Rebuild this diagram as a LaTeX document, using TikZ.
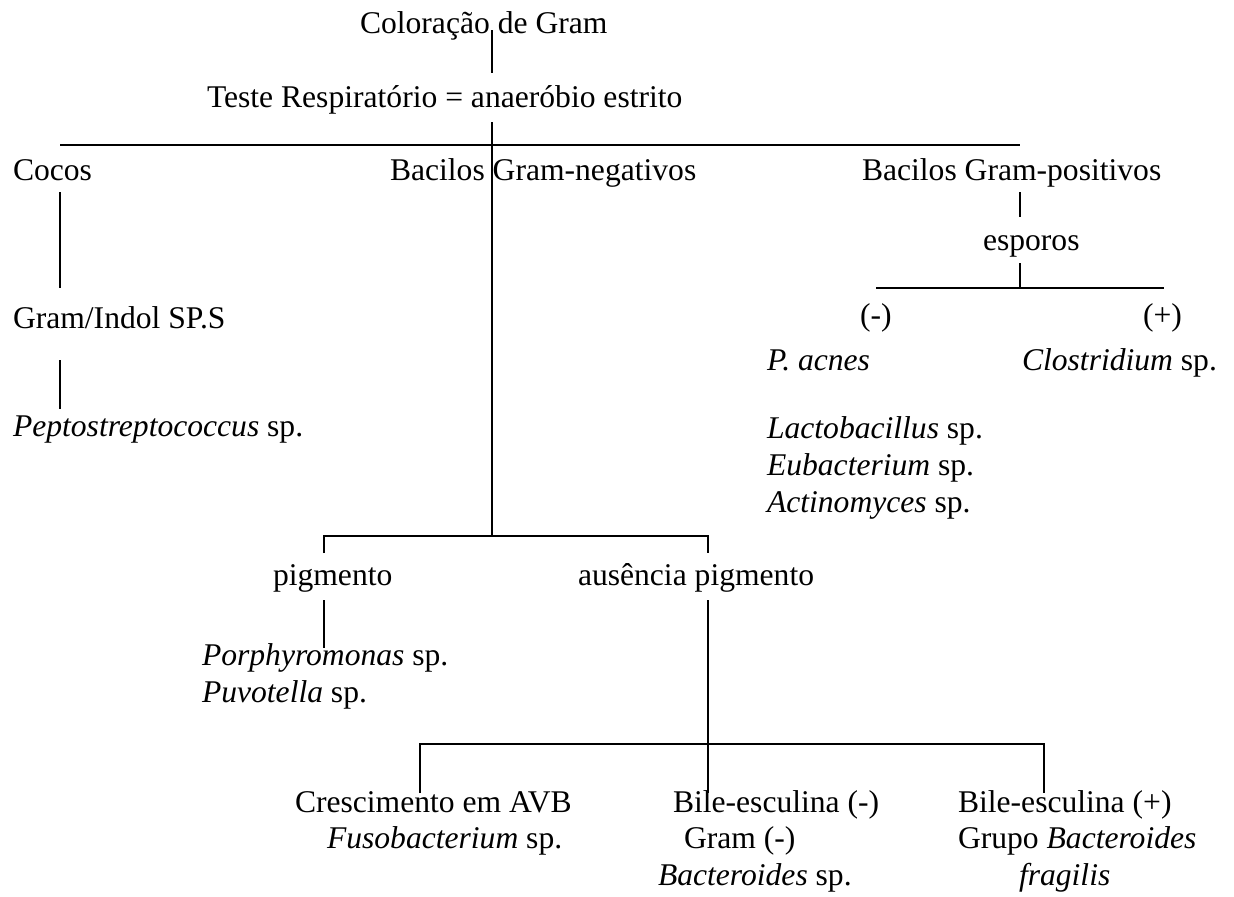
\documentclass[tikz,border=0pt]{standalone}
\usepackage{fontspec}
\setmainfont{Liberation Serif}
\begin{document}
\begin{tikzpicture}[x=0.5pt,y=-0.5pt,
  lbl/.style={anchor=base west,inner sep=0pt,outer sep=0pt,font=\fontsize{15.8}{19}\selectfont},
  conn/.style={line width=1pt,line cap=butt}]
\useasboundingbox (0,0) rectangle (1234,896);
% texts
\node[lbl] (gram) at (360,33) {Coloração de Gram};
\node[lbl] (teste) at (207,107) {Teste Respiratório = anaeróbio estrito};
\node[lbl] (cocos) at (13,180) {Cocos};
\node[lbl] (bgn) at (390,180) {Bacilos Gram-negativos};
\node[lbl] (bgp) at (862,180) {Bacilos Gram-positivos};
\node[lbl] (esp) at (983,250) {esporos};
\node[lbl] (neg) at (860,325) {(-)};
\node[lbl] (pos) at (1143,325) {(+)};
\node[lbl] (pacnes) at (767,370) {\textit{P. acnes}};
\node[lbl] (clos) at (1022,370) {\textit{Clostridium} sp.};
\node[lbl] (indol) at (13,328) {Gram/Indol SP.S};
\node[lbl] (pepto) at (13,436) {\textit{Peptostreptococcus} sp.};
\node[lbl] (lacto) at (767,438) {\textit{Lactobacillus} sp.};
\node[lbl] (eubac) at (767,475) {\textit{Eubacterium} sp.};
\node[lbl] (actino) at (767,512) {\textit{Actinomyces} sp.};
\node[lbl] (pigm) at (273,585) {pigmento};
\node[lbl] (ausen) at (578,585) {ausência pigmento};
\node[lbl] (porph) at (202,665) {\textit{Porphyromonas} sp.};
\node[lbl] (puvo) at (202,702) {\textit{Puvotella} sp.};
\node[lbl] (cresc) at (295,812) {Crescimento em AVB};
\node[lbl] (fuso) at (327,848) {\textit{Fusobacterium} sp.};
\node[lbl] (bile1) at (673,812) {Bile-esculina (-)};
\node[lbl] (gramneg) at (684,848) {Gram (-)};
\node[lbl] (bactsp) at (658,885) {\textit{Bacteroides} sp.};
\node[lbl] (bile2) at (958,812) {Bile-esculina (+)};
\node[lbl] (grupo) at (958,848) {Grupo \textit{Bacteroides}};
\node[lbl] (frag) at (1019,885) {\textit{fragilis}};
% connector points
\coordinate (a1) at (492,30);  \coordinate (a2) at (492,73);
\coordinate (b1) at (492,122); \coordinate (b2) at (492,192);
\coordinate (h1l) at (60,145); \coordinate (h1r) at (1020,145);
\coordinate (c1) at (60,192);  \coordinate (c2) at (60,288);
\coordinate (c3) at (60,360);  \coordinate (c4) at (60,409);
\coordinate (p1) at (1020,192); \coordinate (p2) at (1020,217);
\coordinate (p3) at (1020,263); \coordinate (p4) at (1020,288);
\coordinate (h2l) at (876,288); \coordinate (h2r) at (1164,288);
\coordinate (n1) at (492,536);
\coordinate (h3l) at (324,536); \coordinate (h3r) at (708,536);
\coordinate (h3ld) at (324,553); \coordinate (h3rd) at (708,553);
\coordinate (g1) at (324,600); \coordinate (g2) at (324,648);
\coordinate (m1) at (708,600); \coordinate (m2) at (708,793);
\coordinate (h4l) at (420,744); \coordinate (h4r) at (1044,744);
\coordinate (h4ld) at (420,793); \coordinate (h4rd) at (1044,793);
% connectors
\draw[conn] (a1) -- (a2);
\draw[conn] (b1) -- (b2);
\draw[conn] (h1l) -- (h1r);
\draw[conn] (c1) -- (c2);
\draw[conn] (c3) -- (c4);
\draw[conn] (p1) -- (p2);
\draw[conn] (p3) -- (p4);
\draw[conn] (h2l) -- (h2r);
\draw[conn] (b2) -- (n1);
\draw[conn] (h3ld) -- (h3l) -- (h3r) -- (h3rd);
\draw[conn] (g1) -- (g2);
\draw[conn] (m1) -- (m2);
\draw[conn] (h4ld) -- (h4l) -- (h4r) -- (h4rd);
\end{tikzpicture}
\end{document}
